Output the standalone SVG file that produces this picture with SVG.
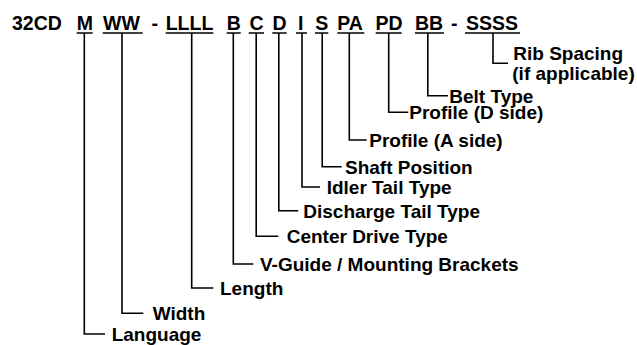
<svg xmlns="http://www.w3.org/2000/svg" width="637" height="345" viewBox="0 0 637 345">
<style>
.code{font-family:"Liberation Sans",Arial,sans-serif;font-weight:bold;font-size:19.5px;fill:#000}
.lbl{font-family:"Liberation Sans",Arial,sans-serif;font-weight:bold;font-size:19px;fill:#000}
.ul{stroke:#000;stroke-width:1.5}
.conn{fill:none;stroke:#000;stroke-width:1.6}
</style>
<rect width="637" height="345" fill="#fff"/>
<g id="code">
<text class="code" x="12" y="30">32CD</text>
<text class="code" x="76.7" y="30">M</text>
<text class="code" x="103" y="30">WW</text>
<text class="code" x="151.5" y="30">-</text>
<text class="code" x="165.7" y="30">LLLL</text>
<text class="code" x="226.7" y="30">B</text>
<text class="code" x="249.5" y="30">C</text>
<text class="code" x="272.5" y="30">D</text>
<text class="code" x="298" y="30">I</text>
<text class="code" x="315.2" y="30">S</text>
<text class="code" x="337.3" y="30">PA</text>
<text class="code" x="375.5" y="30">PD</text>
<text class="code" x="415" y="30">BB</text>
<text class="code" x="451" y="30">-</text>
<text class="code" x="466" y="30">SSSS</text>
<g id="underlines">
<line class="ul" x1="76.7" y1="33" x2="92.7" y2="33"/>
<line class="ul" x1="102.7" y1="33" x2="142.7" y2="33"/>
<line class="ul" x1="165.7" y1="33" x2="213.3" y2="33"/>
<line class="ul" x1="226.7" y1="33" x2="240.7" y2="33"/>
<line class="ul" x1="248.7" y1="33" x2="264" y2="33"/>
<line class="ul" x1="272.3" y1="33" x2="286.7" y2="33"/>
<line class="ul" x1="296" y1="33" x2="307" y2="33"/>
<line class="ul" x1="315" y1="33" x2="328.3" y2="33"/>
<line class="ul" x1="337.3" y1="33" x2="364.3" y2="33"/>
<line class="ul" x1="375.7" y1="33" x2="401.7" y2="33"/>
<line class="ul" x1="415" y1="33" x2="444" y2="33"/>
<line class="ul" x1="465" y1="33" x2="520" y2="33"/>
</g>
</g>
<g id="connectors">
<path class="conn" d="M84.3 33V334H105"/>
<path class="conn" d="M122 33V313.3H143.3"/>
<path class="conn" d="M191.7 33V288H213.3"/>
<path class="conn" d="M233.3 33V264H253.3"/>
<path class="conn" d="M256.2 33V236.3H278.3"/>
<path class="conn" d="M278.8 33V210.8H298.3"/>
<path class="conn" d="M302 33V187H320"/>
<path class="conn" d="M322.2 33V166.7H341.7"/>
<path class="conn" d="M349.3 33V140H366.7"/>
<path class="conn" d="M388.7 33V112.3H408.3"/>
<path class="conn" d="M427.8 33V95.7H448"/>
<path class="conn" d="M493 33V63.3H508"/>
</g>
<g id="n-language"><text class="lbl" x="111.7" y="340.8">Language</text></g>
<g id="n-width"><text class="lbl" x="152.7" y="320.1">Width</text></g>
<g id="n-length"><text class="lbl" x="220" y="294.8">Length</text></g>
<g id="n-vguide"><text class="lbl" x="260" y="270.8">V-Guide / Mounting Brackets</text></g>
<g id="n-center"><text class="lbl" x="286.7" y="243.1">Center Drive Type</text></g>
<g id="n-discharge"><text class="lbl" x="303.3" y="217.6">Discharge Tail Type</text></g>
<g id="n-idler"><text class="lbl" x="326.7" y="193.8">Idler Tail Type</text></g>
<g id="n-shaft"><text class="lbl" x="345" y="173.5">Shaft Position</text></g>
<g id="n-profile-a"><text class="lbl" x="369.3" y="146.8">Profile (A side)</text></g>
<g id="n-profile-d"><text class="lbl" x="409.3" y="119.1">Profile (D side)</text></g>
<g id="n-belt"><text class="lbl" x="449.3" y="102.5">Belt Type</text></g>
<g id="n-rib"><text class="lbl" x="513.3" y="60.3">Rib Spacing</text><text class="lbl" x="512.3" y="79.5">(if applicable)</text></g>
</svg>
